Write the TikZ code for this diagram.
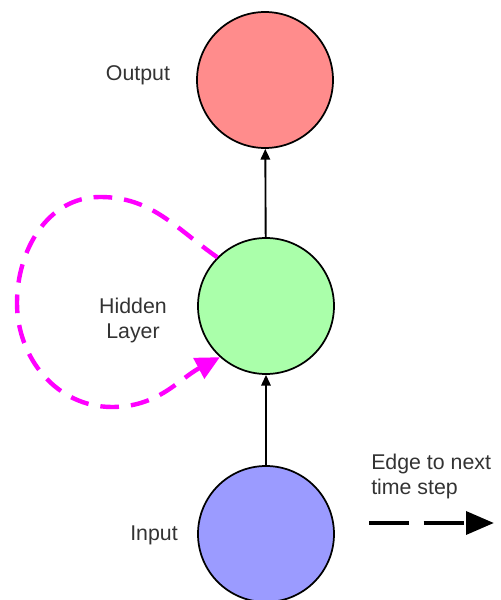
\documentclass[tikz,border=0pt]{standalone}
\usepackage{fontspec}
\setmainfont{Liberation Sans}
\usetikzlibrary{arrows.meta}
\definecolor{outfill}{RGB}{255,140,140}
\definecolor{hidfill}{RGB}{170,255,170}
\definecolor{infill}{RGB}{155,155,255}
\definecolor{loopc}{RGB}{255,0,255}
\begin{document}
\begin{tikzpicture}[x=0.75pt,y=0.75pt,
  unit/.style={circle,draw=black,line width=1.3pt,minimum size=102pt,inner sep=0pt},
  lbl/.style={font=\fontsize{16pt}{18.75pt}\selectfont,text=black!80,inner sep=0pt},
  feed/.style={line width=1.4pt,-{Triangle[length=8pt,width=7pt]}},
  loopedge/.style={loopc,line width=3.3pt,dash pattern=on 14pt off 9pt,-{Triangle[length=18pt,width=17pt]}},
  nextedge/.style={black,line width=3.4pt,dash pattern=on 30pt off 11pt,-{Triangle[length=21pt,width=17pt]}}]
\useasboundingbox (0,0) rectangle (500,600);
\node[unit,fill=outfill] (O) at (265,520) {};
\node[unit,fill=hidfill] (H) at (266,294) {};
\node[unit,fill=infill] (I) at (266,66) {};
\node[lbl] (tO) at (138,525) {Output};
\node[lbl,align=center] (tH) at (133,280) {Hidden\\Layer};
\node[lbl] (tI) at (154,65) {Input};
\node[lbl,align=left,anchor=north west] (tE) at (371,146) {Edge to next\\time step};
\draw[feed] (I) -- (H);
\draw[feed] (H) -- (O);
\coordinate (lt) at (100,403);
\coordinate (ll) at (17,297);
\coordinate (lb) at (112,193);
\draw[loopedge] (H.135) to[out=145,in=0] (lt) to[out=180,in=90] (ll) to[out=-90,in=180] (lb) to[out=0,in=208] (H.228);
\coordinate (e1) at (369,77);
\coordinate (e2) at (494,77);
\draw[nextedge] (e1) -- (e2);
\end{tikzpicture}
\end{document}
